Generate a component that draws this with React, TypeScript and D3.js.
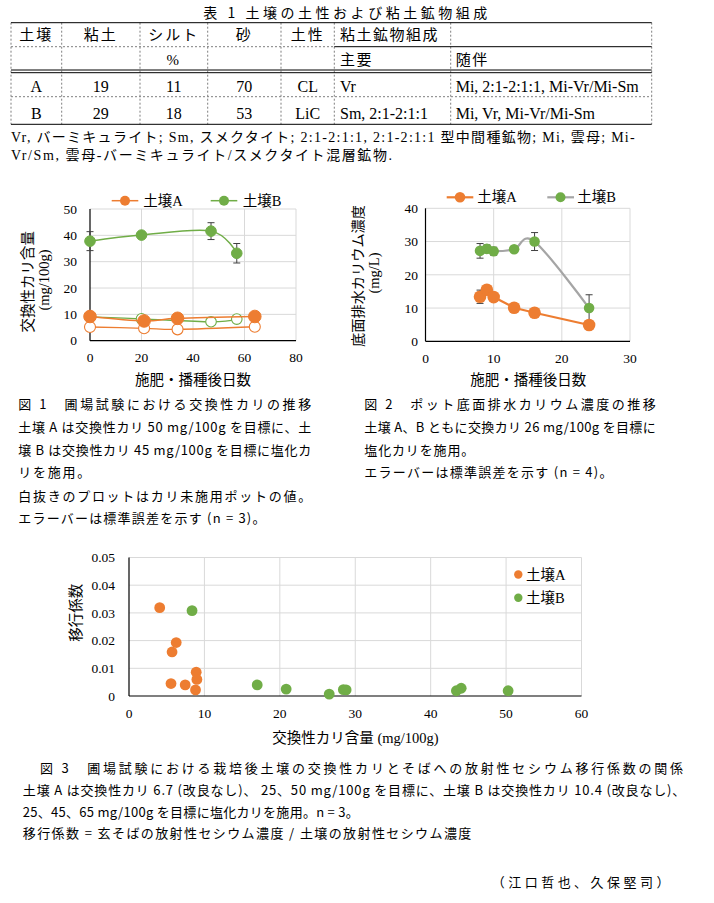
import React from 'react';
import * as d3 from 'd3';

// ---------- colours & fonts ----------
const ORANGE = '#ED7D31';
const GREEN = '#70AD47';
const GRAYLINE = '#A5A5A5';
const GRID = '#D9D9D9';
const ERR = '#404040';
const SERIF = "'Liberation Serif', 'Noto Sans CJK JP', serif";
const JP = "'Noto Sans CJK JP', sans-serif";

// ---------- Table 1 ----------
const tableTitle = '表 1 土壌の土性および粘土鉱物組成';
const tableHeader1 = ['土壌', '粘土', 'シルト', '砂', '土性', '粘土鉱物組成', ''];
const tableHeader2 = ['', '', '%', '', '', '主要', '随伴'];
const tableRowA = ['A', '19', '11', '70', 'CL', 'Vr', 'Mi, 2:1-2:1:1, Mi-Vr/Mi-Sm'];
const tableRowB = ['B', '29', '18', '53', 'LiC', 'Sm, 2:1-2:1:1', 'Mi, Vr, Mi-Vr/Mi-Sm'];
const tableNotes = [
  'Vr, バーミキュライト; Sm, スメクタイト; 2:1-2:1:1, 2:1-2:1:1 型中間種鉱物; Mi, 雲母; Mi-',
  'Vr/Sm, 雲母-バーミキュライト/スメクタイト混層鉱物.',
];

// ---------- Figure 1 ----------
const fig1Legend = ['土壌A', '土壌B'];
const fig1XTicks = [0, 20, 40, 60, 80];
const fig1YTicks = [0, 10, 20, 30, 40, 50];
const fig1DaysA = [0, 21, 34, 64];
const fig1AFilled = [9.2, 7.5, 8.5, 9.2];
const fig1AOpen = [5.2, 4.7, 4.3, 5.3];
const fig1DaysB = [0, 20, 47, 57];
const fig1BFilled = [37.8, 40.1, 41.6, 33.2];
const fig1BErr = [3.6, 0.6, 3.2, 3.7];
const fig1BOpen = [9.0, 8.3, 7.2, 8.2];
const fig1XTitle = '施肥・播種後日数';
const fig1YTitle1 = '交換性カリ含量';
const fig1YTitle2 = '(mg/100g)';

// ---------- Figure 2 ----------
const fig2Legend = ['土壌A', '土壌B'];
const fig2XTicks = [0, 10, 20, 30];
const fig2YTicks = [0, 10, 20, 30, 40];
const fig2Days = [8, 9, 10, 13, 16, 24];
const fig2A = [13.4, 15.5, 13.3, 10.1, 8.6, 4.9];
const fig2AErr = [2.0, 0.8, 0.8, 0.5, 0.5, 0.5];
const fig2B = [27.2, 27.8, 27.1, 27.7, 30.0, 10.0];
const fig2BErr = [2.2, 1.2, 1.2, 0.6, 2.7, 4.0];
const fig2XTitle = '施肥・播種後日数';
const fig2YTitle1 = '底面排水カリウム濃度';
const fig2YTitle2 = '(mg/L)';

// ---------- Figure 3 ----------
const fig3Legend = ['土壌A', '土壌B'];
const fig3XTicks = [0, 10, 20, 30, 40, 50, 60];
const fig3YTicks = [0, 0.01, 0.02, 0.03, 0.04, 0.05];
const fig3YTickLabels = ['0', '0.01', '0.02', '0.03', '0.04', '0.05'];
const fig3AK = [4.07, 6.26, 5.71, 8.91, 9.0, 5.57, 7.45, 8.82];
const fig3ATF = [0.0319, 0.0193, 0.0159, 0.0086, 0.006, 0.0045, 0.004, 0.0022];
const fig3BK = [8.36, 17.0, 20.84, 26.55, 28.42, 28.79, 43.41, 44.05, 50.27];
const fig3BTF = [0.0308, 0.004, 0.0025, 0.0007, 0.0023, 0.0022, 0.0019, 0.0028, 0.0019];
const fig3XTitle = '交換性カリ含量 (mg/100g)';
const fig3YTitle = '移行係数';

// ---------- captions ----------
const fig1Caption = [
  '図 1　圃場試験における交換性カリの推移',
  '土壌 A は交換性カリ 50 mg/100g を目標に、土',
  '壌 B は交換性カリ 45 mg/100g を目標に塩化カ',
  'リを施用。',
  '白抜きのプロットはカリ未施用ポットの値。',
  'エラーバーは標準誤差を示す (n = 3)。',
];
const fig2Caption = [
  '図 2　ポット底面排水カリウム濃度の推移',
  '土壌 A、B ともに交換カリ 26 mg/100g を目標に',
  '塩化カリを施用。',
  'エラーバーは標準誤差を示す (n = 4)。',
];
const fig3Caption = [
  '図 3　圃場試験における栽培後土壌の交換性カリとそばへの放射性セシウム移行係数の関係',
  '土壌 A は交換性カリ 6.7 (改良なし)、 25、50 mg/100g を目標に、土壌 B は交換性カリ 10.4 (改良なし)、',
  '25、45、65 mg/100g を目標に塩化カリを施用。n = 3。',
  '移行係数 = 玄そばの放射性セシウム濃度 / 土壌の放射性セシウム濃度',
];
const authors = '（江口哲也、久保堅司）';

type P = { x: number; y: number };

function Txt(props: any) {
  const { children, ...rest } = props;
  return (
    <text dy="0.35em" fill="#000" {...rest}>
      {children}
    </text>
  );
}

function Table1() {
  const colEdges = [11, 61.7, 140, 207.7, 281, 334.3, 450.7, 651.7];
  const centers = [36.3, 100.8, 173.8, 244.3, 307.7];
  const leftStarts = [340, 455.7];
  const top = 22.7, r1 = 46.7, d1 = 70, d2 = 72.7, mid = 96.7, bot = 124.3;
  const rowY = [34.3, 60, 86, 113.3];
  const dash = { stroke: '#7f7f7f', strokeWidth: 1, strokeDasharray: '2,2' };
  const cell = (row: string[], y: number, jp: boolean) =>
    row.map((t, i) => {
      if (!t) return null;
      if (i < 5)
        return (
          <Txt key={i} x={centers[i]} y={y} textAnchor="middle" fontFamily={SERIF} fontSize={jp ? 15 : 16} letterSpacing={jp ? 2 : 0}>
            {t}
          </Txt>
        );
      return (
        <Txt key={i} x={leftStarts[i - 5]} y={y} fontFamily={SERIF} fontSize={jp ? 15 : 16} letterSpacing={jp ? 1.5 : 0}>
          {t}
        </Txt>
      );
    });
  return (
    <g>
      <Txt x={203.3} y={12.7} fontFamily={JP} fontSize={14} textLength={284} lengthAdjust="spacing">
        {tableTitle}
      </Txt>
      {colEdges.map((x, i) => (
        <line key={i} x1={x} x2={x} y1={top} y2={bot} {...dash} />
      ))}
      <line x1={colEdges[0]} x2={colEdges[7]} y1={top} y2={top} stroke="#000" />
      <line x1={colEdges[0]} x2={colEdges[5]} y1={r1} y2={r1} {...dash} />
      <line x1={colEdges[5]} x2={colEdges[7]} y1={r1} y2={r1} stroke="#000" />
      <line x1={colEdges[0]} x2={colEdges[7]} y1={d1} y2={d1} stroke="#000" />
      <line x1={colEdges[0]} x2={colEdges[7]} y1={d2} y2={d2} stroke="#000" />
      <line x1={colEdges[0]} x2={colEdges[7]} y1={mid} y2={mid} {...dash} />
      <line x1={colEdges[0]} x2={colEdges[7]} y1={bot} y2={bot} stroke="#000" />
      {cell(tableHeader1, rowY[0], true)}
      {cell(tableHeader2, rowY[1], true)}
      {cell(tableRowA, rowY[2], false)}
      {cell(tableRowB, rowY[3], false)}
      <Txt x={11} y={136.7} fontFamily={SERIF} fontSize={14} textLength={623.7} lengthAdjust="spacing">
        {tableNotes[0]}
      </Txt>
      <Txt x={11} y={155.5} fontFamily={SERIF} fontSize={14} textLength={381} lengthAdjust="spacing">
        {tableNotes[1]}
      </Txt>
    </g>
  );
}

function ErrorBar({ x, y0, y1, w }: { x: number; y0: number; y1: number; w: number }) {
  return (
    <g stroke={ERR} strokeWidth={1}>
      <line x1={x} x2={x} y1={y0} y2={y1} />
      <line x1={x - w} x2={x + w} y1={y0} y2={y0} />
      <line x1={x - w} x2={x + w} y1={y1} y2={y1} />
    </g>
  );
}

function Frame({ x, y, xTicks, yTicks, yLabels, xLabelY, yLabelX }: any) {
  const [x0, x1] = x.range();
  const [y0, y1] = y.range();
  return (
    <g>
      {yTicks.slice(1).map((t: number) => (
        <line key={'h' + t} x1={x0} x2={x1} y1={y(t)} y2={y(t)} stroke={GRID} strokeWidth={1} />
      ))}
      {xTicks.slice(1).map((t: number) => (
        <line key={'v' + t} x1={x(t)} x2={x(t)} y1={y0} y2={y1} stroke={GRID} strokeWidth={1} />
      ))}
      <line x1={x0} x2={x0} y1={y0} y2={y1} stroke="#000" strokeWidth={1.2} />
      <line x1={x0} x2={x1} y1={y0} y2={y0} stroke="#000" strokeWidth={1.2} />
      {yTicks.map((t: number, i: number) => (
        <Txt key={'yl' + t} x={yLabelX} y={y(t)} textAnchor="end" fontFamily={SERIF} fontSize={13.5}>
          {yLabels ? yLabels[i] : String(t)}
        </Txt>
      ))}
      {xTicks.map((t: number) => (
        <Txt key={'xl' + t} x={x(t)} y={xLabelY} textAnchor="middle" fontFamily={SERIF} fontSize={13.5}>
          {String(t)}
        </Txt>
      ))}
    </g>
  );
}

function Fig1() {
  const x = d3.scaleLinear().domain([0, 80]).range([90, 296]);
  const y = d3.scaleLinear().domain([0, 50]).range([340.7, 209]);
  const line = d3
    .line<P>()
    .x((d) => x(d.x))
    .y((d) => y(d.y))
    .curve(d3.curveCardinal.tension(0));
  const pts = (xs: number[], ys: number[]) => xs.map((v, i) => ({ x: v, y: ys[i] }));
  const aF = pts(fig1DaysA, fig1AFilled);
  const aO = pts(fig1DaysA, fig1AOpen);
  const bF = pts(fig1DaysB, fig1BFilled);
  const bO = pts(fig1DaysB, fig1BOpen);
  return (
    <g>
      <Frame x={x} y={y} xTicks={fig1XTicks} yTicks={fig1YTicks} xLabelY={357.7} yLabelX={77} />
      {/* B open */}
      <path d={line(bO) || ''} fill="none" stroke={GREEN} strokeWidth={1.3} />
      {bO.map((d, i) => (
        <circle key={'bo' + i} cx={x(d.x)} cy={y(d.y)} r={5.3} fill="#fff" stroke={GREEN} strokeWidth={1.1} />
      ))}
      {/* A open */}
      <path d={line(aO) || ''} fill="none" stroke={ORANGE} strokeWidth={1.3} />
      {aO.map((d, i) => (
        <circle key={'ao' + i} cx={x(d.x)} cy={y(d.y)} r={5.5} fill="#fff" stroke={ORANGE} strokeWidth={1.1} />
      ))}
      {/* B filled */}
      <path d={line(bF) || ''} fill="none" stroke={GREEN} strokeWidth={1.5} />
      {bF.map((d, i) => (
        <ErrorBar key={'be' + i} x={x(d.x)} y0={y(d.y + fig1BErr[i])} y1={y(d.y - fig1BErr[i])} w={3.5} />
      ))}
      {bF.map((d, i) => (
        <circle key={'bf' + i} cx={x(d.x)} cy={y(d.y)} r={5.3} fill={GREEN} stroke={GREEN} />
      ))}
      {/* A filled */}
      <path d={line(aF) || ''} fill="none" stroke={ORANGE} strokeWidth={1.5} />
      {aF.map((d, i) => (
        <circle key={'af' + i} cx={x(d.x)} cy={y(d.y)} r={6.3} fill={ORANGE} stroke={ORANGE} />
      ))}
      {/* legend */}
      <line x1={111.7} x2={138.3} y1={200.7} y2={200.7} stroke={ORANGE} strokeWidth={1.5} />
      <circle cx={125} cy={200.7} r={5} fill={ORANGE} />
      <Txt x={143.3} y={200.7} fontFamily={SERIF} fontSize={14.5}>{fig1Legend[0]}</Txt>
      <line x1={210.7} x2={237.3} y1={200.7} y2={200.7} stroke={GREEN} strokeWidth={1.5} />
      <circle cx={224} cy={200.7} r={5} fill={GREEN} />
      <Txt x={242.7} y={200.7} fontFamily={SERIF} fontSize={14.5}>{fig1Legend[1]}</Txt>
      {/* titles */}
      <Txt x={193} y={380} textAnchor="middle" fontFamily={SERIF} fontSize={14.5}>{fig1XTitle}</Txt>
      <Txt x={0} y={0} textAnchor="middle" fontFamily={SERIF} fontSize={14.5} transform="translate(28.3,281.7) rotate(-90)">{fig1YTitle1}</Txt>
      <Txt x={0} y={0} textAnchor="middle" fontFamily={SERIF} fontSize={14.5} transform="translate(44,280) rotate(-90)">{fig1YTitle2}</Txt>
    </g>
  );
}

function Fig2() {
  const x = d3.scaleLinear().domain([0, 30]).range([425.5, 630]);
  const y = d3.scaleLinear().domain([0, 40]).range([341.3, 208.3]);
  const smooth = d3
    .line<P>()
    .x((d) => x(d.x))
    .y((d) => y(d.y))
    .curve(d3.curveCardinal.tension(0));
  const straight = d3
    .line<P>()
    .x((d) => x(d.x))
    .y((d) => y(d.y));
  const a = fig2Days.map((v, i) => ({ x: v, y: fig2A[i] }));
  const b = fig2Days.map((v, i) => ({ x: v, y: fig2B[i] }));
  return (
    <g>
      <Frame x={x} y={y} xTicks={fig2XTicks} yTicks={fig2YTicks} xLabelY={358.3} yLabelX={418} />
      <path d={smooth(b) || ''} fill="none" stroke={GRAYLINE} strokeWidth={2.2} />
      {b.map((d, i) => (
        <ErrorBar key={'be' + i} x={x(d.x)} y0={y(d.y + fig2BErr[i])} y1={y(d.y - fig2BErr[i])} w={3.5} />
      ))}
      {b.map((d, i) => (
        <circle key={'b' + i} cx={x(d.x)} cy={y(d.y)} r={5.3} fill={GREEN} />
      ))}
      <path d={straight(a) || ''} fill="none" stroke={ORANGE} strokeWidth={2.2} />
      {a.map((d, i) => (
        <ErrorBar key={'ae' + i} x={x(d.x)} y0={y(d.y + fig2AErr[i])} y1={y(d.y - fig2AErr[i])} w={3.5} />
      ))}
      {a.map((d, i) => (
        <circle key={'a' + i} cx={x(d.x)} cy={y(d.y)} r={6.3} fill={ORANGE} />
      ))}
      {/* legend */}
      <line x1={446.7} x2={473.3} y1={197.3} y2={197.3} stroke={ORANGE} strokeWidth={2.2} />
      <circle cx={460} cy={197.3} r={5.3} fill={ORANGE} />
      <Txt x={477.3} y={197.3} fontFamily={SERIF} fontSize={14.5}>{fig2Legend[0]}</Txt>
      <line x1={547.3} x2={574} y1={197.3} y2={197.3} stroke={GRAYLINE} strokeWidth={2.2} />
      <circle cx={560.5} cy={197.3} r={5} fill={GREEN} />
      <Txt x={577.3} y={197.3} fontFamily={SERIF} fontSize={14.5}>{fig2Legend[1]}</Txt>
      <Txt x={528.3} y={380} textAnchor="middle" fontFamily={SERIF} fontSize={14.5}>{fig2XTitle}</Txt>
      <Txt x={0} y={0} textAnchor="middle" fontFamily={SERIF} fontSize={14.2} transform="translate(358.3,276) rotate(-90)">{fig2YTitle1}</Txt>
      <Txt x={0} y={0} textAnchor="middle" fontFamily={SERIF} fontSize={14.5} transform="translate(373.5,273) rotate(-90)">{fig2YTitle2}</Txt>
    </g>
  );
}

function Fig3() {
  const x = d3.scaleLinear().domain([0, 60]).range([129, 581.5]);
  const y = d3.scaleLinear().domain([0, 0.05]).range([696, 557.5]);
  return (
    <g>
      <Frame x={x} y={y} xTicks={fig3XTicks} yTicks={fig3YTicks} yLabels={fig3YTickLabels} xLabelY={713} yLabelX={115} />
      {fig3AK.map((v, i) => (
        <circle key={'a' + i} cx={x(v)} cy={y(fig3ATF[i])} r={5.4} fill={ORANGE} />
      ))}
      {fig3BK.map((v, i) => (
        <circle key={'b' + i} cx={x(v)} cy={y(fig3BTF[i])} r={5.4} fill={GREEN} />
      ))}
      <circle cx={518.3} cy={574.5} r={4.2} fill={ORANGE} />
      <Txt x={526} y={574.5} fontFamily={SERIF} fontSize={14.5}>{fig3Legend[0]}</Txt>
      <circle cx={518.3} cy={597.7} r={4.2} fill={GREEN} />
      <Txt x={526} y={597.7} fontFamily={SERIF} fontSize={14.5}>{fig3Legend[1]}</Txt>
      <Txt x={355.5} y={737.7} textAnchor="middle" fontFamily={SERIF} fontSize={14.5}>{fig3XTitle}</Txt>
      <Txt x={0} y={0} textAnchor="middle" fontFamily={SERIF} fontSize={14.5} transform="translate(75.5,612.7) rotate(-90)">{fig3YTitle}</Txt>
    </g>
  );
}

function Captions() {
  const c1Y = [404, 427.3, 450, 472.7, 496, 518.3];
  const c1W = [293, 293, 293, 72, 293, 247.3];
  const c2W = [291.4, 291.4, 110, 248.2];
  const c3Y = [768, 790, 812, 833];
  const c3X = [40, 22.8, 22.8, 22.8];
  const c3W = [643, 662.5, 336, 448.5];
  return (
    <g fontFamily={JP} fontSize={13}>
      {fig1Caption.map((t, i) => (
        <Txt key={'c1' + i} x={18.2} y={c1Y[i]} textLength={c1W[i]} lengthAdjust="spacing">{t}</Txt>
      ))}
      {fig2Caption.map((t, i) => (
        <Txt key={'c2' + i} x={364.3} y={c1Y[i]} textLength={c2W[i]} lengthAdjust="spacing">{t}</Txt>
      ))}
      {fig3Caption.map((t, i) => (
        <Txt key={'c3' + i} x={c3X[i]} y={c3Y[i]} textLength={c3W[i]} lengthAdjust="spacing">{t}</Txt>
      ))}
      <Txt x={491.8} y={882} textLength={177.6} lengthAdjust="spacing">{authors}</Txt>
    </g>
  );
}

export default function App() {
  return (
    <svg
      width={714}
      height={903}
      viewBox="0 0 714 903"
      style={{ position: 'absolute', left: 0, top: 0, background: '#fff' }}
    >
      <rect x={0} y={0} width={714} height={903} fill="#fff" />
      <Table1 />
      <Fig1 />
      <Fig2 />
      <Fig3 />
      <Captions />
    </svg>
  );
}
